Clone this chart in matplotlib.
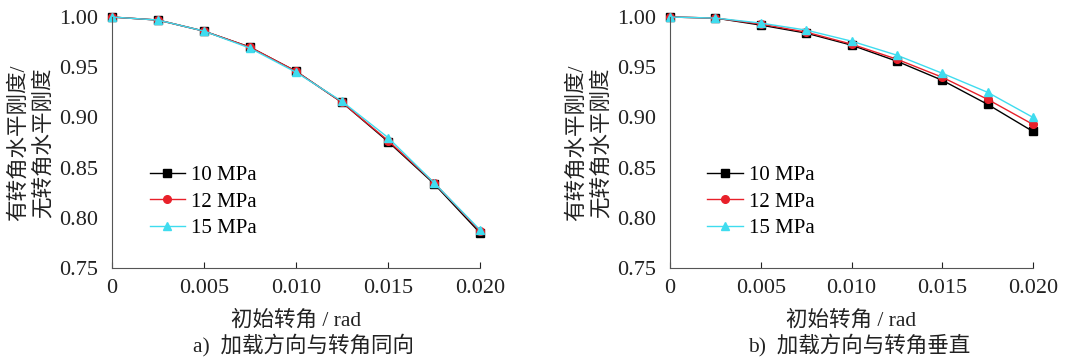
import matplotlib
matplotlib.use("Agg")
from matplotlib import pyplot as plt

plt.rcParams['font.family'] = ['Liberation Serif', 'Noto Sans CJK SC']

# 初始转角
angles = [0, 0.0025, 0.005, 0.0075, 0.010, 0.0125, 0.015, 0.0175, 0.020]
series_names = ['10 MPa', '12 MPa', '15 MPa']

# a) 加载方向与转角同向
ratio_a_10 = [1.000, 0.997, 0.986, 0.970, 0.946, 0.915, 0.876, 0.834, 0.785]
ratio_a_12 = [1.000, 0.997, 0.986, 0.970, 0.946, 0.915, 0.877, 0.835, 0.787]
ratio_a_15 = [1.000, 0.997, 0.986, 0.969, 0.945, 0.916, 0.880, 0.835, 0.788]

# b) 加载方向与转角垂直
ratio_b_10 = [1.000, 0.999, 0.992, 0.984, 0.972, 0.956, 0.937, 0.913, 0.886]
ratio_b_12 = [1.000, 0.999, 0.993, 0.985, 0.973, 0.958, 0.940, 0.918, 0.893]
ratio_b_15 = [1.000, 0.999, 0.994, 0.987, 0.976, 0.962, 0.944, 0.925, 0.900]

xticks = [0, 0.005, 0.010, 0.015, 0.020]
xticklabels = ['0', '0.005', '0.010', '0.015', '0.020']
yticks = [0.75, 0.80, 0.85, 0.90, 0.95, 1.00]

styles = [('black', 's'), ('#e8202a', 'o'), ('#3fdcef', '^')]


def draw_panel(ax, data, caption):
    for (color, marker), values, name in zip(styles, data, series_names):
        ax.plot(angles, values, color=color, marker=marker, markersize=5.5,
                linewidth=1.0, label=name, clip_on=False)
    ax.set_xlim(0, 0.020)
    ax.set_ylim(0.75, 1.00)
    ax.set_xticks(xticks)
    ax.set_xticklabels(xticklabels)
    ax.set_yticks(yticks)
    ax.set_yticklabels(['%.2f' % v for v in yticks])
    ax.spines['top'].set_visible(False)
    ax.spines['right'].set_visible(False)
    ax.spines['left'].set_color('#555555')
    ax.spines['bottom'].set_color('#555555')
    ax.tick_params(direction='in', length=4, labelsize=16, colors='#222222',
                   pad=8)
    ax.tick_params(axis='y', length=0, pad=10)
    ax.set_ylabel('有转角水平刚度/\n无转角水平刚度', fontsize=15.5,
                  linespacing=1.25, labelpad=4, color='#222222')
    ax.set_xlabel('初始转角 / rad', fontsize=15.5, labelpad=9, color='#222222')
    ax.text(0.52, -0.305, caption, transform=ax.transAxes, ha='center',
            va='center', fontsize=15.5, color='#222222')
    ax.legend(loc='upper left', bbox_to_anchor=(0.08, 0.44),
              frameon=False, fontsize=15, handlelength=1.7,
              handletextpad=0.3, labelspacing=0.32, borderaxespad=0)


fig = plt.figure(figsize=(10.8, 3.59), dpi=100)
ax1 = fig.add_axes([0.1037, 0.2535, 0.3407, 0.699])
ax2 = fig.add_axes([0.6204, 0.2535, 0.3361, 0.699])

draw_panel(ax1, [ratio_a_10, ratio_a_12, ratio_a_15], 'a)  加载方向与转角同向')
draw_panel(ax2, [ratio_b_10, ratio_b_12, ratio_b_15], 'b)  加载方向与转角垂直')

fig.savefig('out.png', dpi=100)
